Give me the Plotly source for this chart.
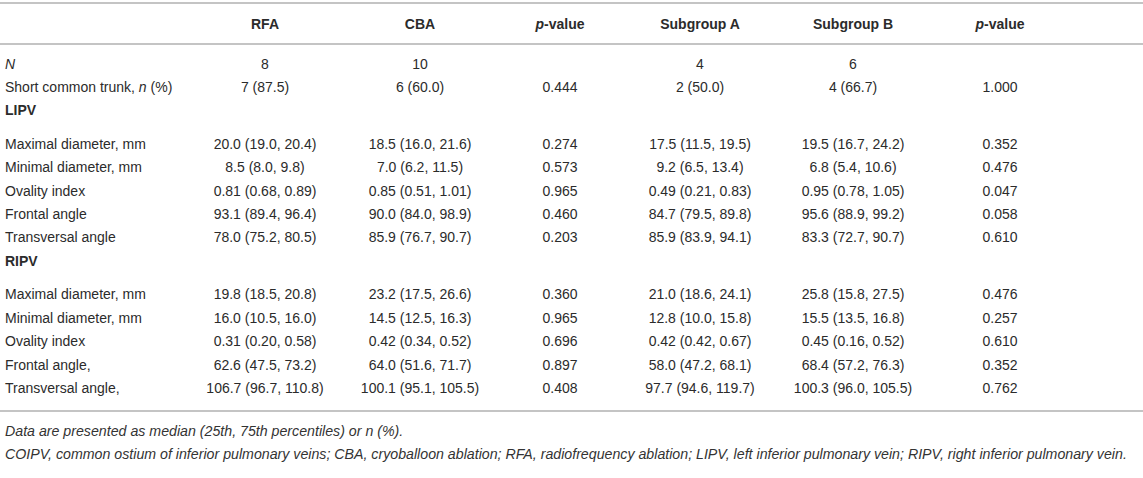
import plotly.graph_objects as go

# Table content
headers = ["RFA", "CBA", "<i>p</i>-value", "Subgroup A", "Subgroup B", "<i>p</i>-value"]

row_labels = [
    "<i>N</i>",
    "Short common trunk, <i>n</i> (%)",
    "<b>LIPV</b>",
    "Maximal diameter, mm",
    "Minimal diameter, mm",
    "Ovality index",
    "Frontal angle",
    "Transversal angle",
    "<b>RIPV</b>",
    "Maximal diameter, mm",
    "Minimal diameter, mm",
    "Ovality index",
    "Frontal angle,",
    "Transversal angle,",
]

rfa = ["8", "7 (87.5)", "",
       "20.0 (19.0, 20.4)", "8.5 (8.0, 9.8)", "0.81 (0.68, 0.89)", "93.1 (89.4, 96.4)", "78.0 (75.2, 80.5)",
       "",
       "19.8 (18.5, 20.8)", "16.0 (10.5, 16.0)", "0.31 (0.20, 0.58)", "62.6 (47.5, 73.2)", "106.7 (96.7, 110.8)"]
cba = ["10", "6 (60.0)", "",
       "18.5 (16.0, 21.6)", "7.0 (6.2, 11.5)", "0.85 (0.51, 1.01)", "90.0 (84.0, 98.9)", "85.9 (76.7, 90.7)",
       "",
       "23.2 (17.5, 26.6)", "14.5 (12.5, 16.3)", "0.42 (0.34, 0.52)", "64.0 (51.6, 71.7)", "100.1 (95.1, 105.5)"]
p_rfa_cba = ["", "0.444", "",
             "0.274", "0.573", "0.965", "0.460", "0.203",
             "",
             "0.360", "0.965", "0.696", "0.897", "0.408"]
subgroup_a = ["4", "2 (50.0)", "",
              "17.5 (11.5, 19.5)", "9.2 (6.5, 13.4)", "0.49 (0.21, 0.83)", "84.7 (79.5, 89.8)", "85.9 (83.9, 94.1)",
              "",
              "21.0 (18.6, 24.1)", "12.8 (10.0, 15.8)", "0.42 (0.42, 0.67)", "58.0 (47.2, 68.1)", "97.7 (94.6, 119.7)"]
subgroup_b = ["6", "4 (66.7)", "",
              "19.5 (16.7, 24.2)", "6.8 (5.4, 10.6)", "0.95 (0.78, 1.05)", "95.6 (88.9, 99.2)", "83.3 (72.7, 90.7)",
              "",
              "25.8 (15.8, 27.5)", "15.5 (13.5, 16.8)", "0.45 (0.16, 0.52)", "68.4 (57.2, 76.3)", "100.3 (96.0, 105.5)"]
p_sub = ["", "1.000", "",
         "0.352", "0.476", "0.047", "0.058", "0.610",
         "",
         "0.476", "0.257", "0.610", "0.352", "0.762"]

footnotes = [
    "Data are presented as median (25th, 75th percentiles) or n (%).",
    "COIPV, common ostium of inferior pulmonary veins; CBA, cryoballoon ablation; RFA, radiofrequency ablation; "
    "LIPV, left inferior pulmonary vein; RIPV, right inferior pulmonary vein.",
]

# layout (pixels)
W, H = 1143, 478
col_x = [265, 420, 560, 700, 853, 1000]
label_x = 5
header_y = 25
line_y = [3, 44, 411]
foot_y = [432, 455]

PITCH = 23.4
AFTER_SECTION = 33.5

def is_section(i):
    return all(c[i] == "" for c in (rfa, cba, p_rfa_cba, subgroup_a, subgroup_b, p_sub))

# row positions; the bold section rows sit at the top of a taller row
row_y = []
y = 65
for i in range(len(row_labels)):
    if i > 0:
        y += AFTER_SECTION if is_section(i - 1) else PITCH
    row_y.append(y)

FONT = "Liberation Sans, Arial, sans-serif"
TXT = "#2b2b2b"

fig = go.Figure()

# header row
fig.add_trace(go.Scatter(
    x=col_x, y=[header_y] * len(col_x), mode="text",
    text=["<b>%s</b>" % h for h in headers],
    textposition="middle center",
    textfont=dict(family=FONT, size=14, color=TXT),
    hoverinfo="skip", showlegend=False,
))

# first column labels
fig.add_trace(go.Scatter(
    x=[label_x] * len(row_labels), y=row_y, mode="text",
    text=row_labels, textposition="middle right",
    textfont=dict(family=FONT, size=14, color=TXT),
    hoverinfo="skip", showlegend=False,
))

# value columns
for cx, col in zip(col_x, [rfa, cba, p_rfa_cba, subgroup_a, subgroup_b, p_sub]):
    fig.add_trace(go.Scatter(
        x=[cx] * len(col), y=row_y, mode="text",
        text=col, textposition="middle center",
        textfont=dict(family=FONT, size=14, color=TXT),
        hoverinfo="skip", showlegend=False,
    ))

# footnotes
fig.add_trace(go.Scatter(
    x=[label_x] * len(footnotes), y=foot_y, mode="text",
    text=["<i>%s</i>" % f for f in footnotes], textposition="middle right",
    textfont=dict(family=FONT, size=14.2, color="#333333"),
    hoverinfo="skip", showlegend=False,
))

for ly in line_y:
    fig.add_shape(type="line", xref="x", yref="y", x0=0, x1=W, y0=ly, y1=ly,
                  line=dict(color="#c4c4c4", width=2))

fig.update_layout(
    width=W, height=H,
    margin=dict(l=0, r=0, t=0, b=0),
    paper_bgcolor="white", plot_bgcolor="white",
    xaxis=dict(range=[0, W], visible=False, fixedrange=True),
    yaxis=dict(range=[H, 0], visible=False, fixedrange=True),
)

# drop the default 8px body margin so the page matches the figure pixels
fig.write_html("out.html", config={"displayModeBar": False},
               post_script="document.body.style.margin='0';")
